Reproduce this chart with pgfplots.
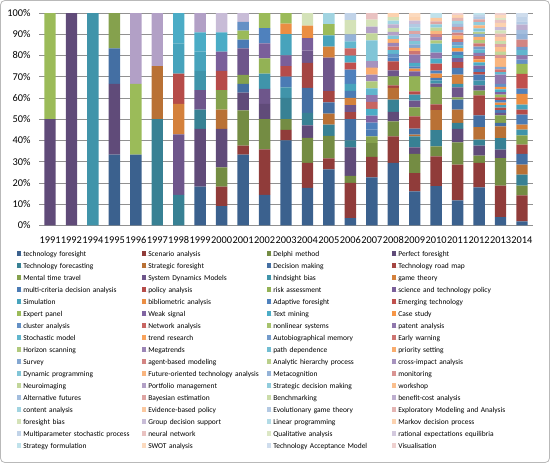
\documentclass[border=0pt]{standalone}
\usepackage{fontspec}
\setmainfont{Carlito}
\usepackage{pgfplots}
\usepackage{pgfplotstable}
\pgfplotsset{compat=1.18}

\definecolor{a1}{HTML}{4F81BD}
\definecolor{a2}{HTML}{C0504D}
\definecolor{a3}{HTML}{9BBB59}
\definecolor{a4}{HTML}{8064A2}
\definecolor{a5}{HTML}{4BACC6}
\definecolor{a6}{HTML}{F79646}
\definecolor{gridgray}{RGB}{145,145,145}
\foreach \g/\m in {0/75!black,1/86!black,2/95!black,3/100!white,4/88!white,5/79!white,6/70!white,7/61!white,8/52!white,9/43!white,10/35!white,11/27!white}{
  \foreach \k in {1,...,6}{
    \pgfmathtruncatemacro{\i}{6*\g+\k}
    \xglobal\colorlet{c\i}{a\k!\m}
  }
}

% rows = series, columns = years 1991,1992,1994,1995,...,2014 (percent of papers)
\pgfplotstableread{
name Y0 Y1 Y2 Y3 Y4 Y5 Y6 Y7 Y8 Y9 Y10 Y11 Y12 Y13 Y14 Y15 Y16 Y17 Y18 Y19 Y20 Y21 Y22
s1  0 0 0 33.33 33.33 0 0 18.18 9.09 33.33 14.29 40 17.65 26.32 3.33 22.58 29.4 16.0 18.4 11.8 17.9 3.8 1.9
s2  0 0 0 0 0 0 0 0 9.09 4.17 21.43 5 11.76 5.26 16.67 9.68 12.5 8.6 14.1 16.8 11.5 14.9 12.2
s3  0 0 0 0 0 0 0 0 9.09 16.67 14.29 5 11.76 10.53 3.33 6.45 7.1 9.0 4.7 10.5 3.4 13.0 4.6
s4  50 100 0 33.33 0 0 0 27.27 18.18 8.33 7.14 0 5.88 0 13.33 0 4.4 3.1 0 6.3 4.7 3.9 0
s5  0 0 0 0 0 50 14.29 9.09 0 0 0 10 5.88 5.26 3.33 0 5.8 5.2 7.6 2.8 2.8 5.5 5.2
s6  0 0 0 0 0 25 0 0 9.09 0 0 0 0 5.26 0 0 5.5 0.8 9.4 6.3 5.9 5.5 4.7
s7  0 0 0 16.67 0 0 0 0 0 4.17 0 0 11.76 5.26 10 0 0 2.8 0 4.7 5.6 1.6 5.0
s8  0 0 0 0 0 0 0 0 0 0 0 0 11.76 5.26 3.33 0 1.2 5.8 2.8 0 9.4 0 4.4
s9  0 0 0 16.67 0 0 0 0 9.09 4.17 0 0 0 0 0 3.23 4.3 4.3 8.2 1.1 2.2 3.6 4.4
s10 0 0 0 0 0 0 28.57 9.09 0 12.5 7.14 0 5.88 15.79 3.33 0 2.8 3.1 1.5 4.7 2.5 1.2 0
s11 0 0 100 0 0 0 0 9.09 0 0 7.14 5 0 0 0 0 0 2.8 1.6 1.6 2.2 0 2.7
s12 0 0 0 0 0 0 14.29 0 0 0 0 0 0 5.26 3.33 0 0 0 0 4.4 0 0 2.3
s13 0 0 0 0 0 0 0 0 0 4.17 0 5 0 0 3.33 3.23 0 0 1.2 3.1 2.9 1.2 4.7
s14 0 0 0 0 0 0 14.29 0 9.09 0 0 5 0 0 0 0 4.2 1.6 0 2.8 1.2 1.2 2.4
s15 0 0 0 0 0 0 0 0 0 0 7.14 0 0 0 0 0 0 7.1 0 0 0 0 0
s16 0 0 0 0 0 0 0 0 9.09 0 7.14 5 5.88 0 0 0 0 2.3 0 1.9 0 0 0
s17 0 0 0 0 0 0 14.28 9.09 0 0 0 10 0 5.26 3.33 0 0 0 0 1.4 0 1.2 2.3
s18 0 0 0 0 0 0 0 0 0 0 0 5 5.88 0 0 0 0 1.3 1.9 0 0 1.2 5.1
s19 0 0 0 0 0 0 0 0 0 0 7.14 0 0 0 6.67 3.23 1.8 1.1 1.5 1.6 1.5 1.2 2.5
s20 0 0 0 0 0 0 0 0 0 0 0 0 0 0 3.33 0 0 0 3.3 0 0 1.2 6.9
s21 50 0 0 0 33.33 0 0 0 0 4.17 7.15 5 0 5.26 0 0 0 0 0 0 0 1.3 4.7
s22 0 0 0 0 0 0 0 0 0 0 0 0 0 0 0 3.23 0 0 0 0 1.5 1.2 0
s23 0 0 0 0 0 0 14.28 9.09 9.09 0 0 0 0 0 3.33 3.23 0 1.6 2.3 0 1.5 1.3 0
s24 0 0 0 0 0 0 0 0 0 0 0 0 0 0 0 0 0 0 0 1.6 1.5 1.2 0
s25 0 0 0 0 0 0 0 0 0 4.17 0 0 0 0 0 0 1.8 0 0 0 0 1.4 2.0
s26 0 0 0 0 0 0 0 0 0 0 0 0 0 0 3.33 3.23 0 0 0 0 1.5 0 0
s27 0 0 0 0 0 0 0 0 0 0 0 0 0 0 0 0 0 0 0 0 0 0 0
s28 0 0 0 0 0 0 0 0 0 0 0 0 0 0 0 3.23 0 3.9 2.8 0 1.5 4.4 2.0
s29 0 0 0 0 0 0 0 0 0 0 0 0 0 0 3.33 3.23 1.7 0 4.3 1.4 1.5 1.2 2.5
s30 0 0 0 0 0 0 0 0 0 0 0 0 0 0 0 0 0 0 0 0 0 0 0
s31 0 0 0 0 0 0 0 0 0 0 0 0 0 0 0 0 0 0 0 1.5 1.5 0 1.5
s32 0 0 0 0 0 0 0 0 0 0 0 0 0 0 0 0 1.7 1.6 0 1.4 1.5 1.2 0
s33 0 0 0 0 0 0 0 0 0 0 0 0 0 0 0 3.23 0 0 1.5 0 1.5 0 0
s34 0 0 0 0 0 0 0 0 0 0 0 0 0 0 0 3.23 1.7 0 1.5 0 0 0 0
s35 0 0 0 0 0 0 0 0 0 0 0 0 0 0 0 0 0 0 0 0 0 0 0
s36 0 0 0 0 0 0 0 0 0 0 0 0 0 0 0 3.23 1.8 1.6 0 1.6 1.5 0 0
s37 0 0 0 0 0 0 0 0 0 0 0 0 0 0 0 0 0 1.6 0 0 1.5 1.2 0
s38 0 0 0 0 0 0 0 0 0 0 0 0 0 0 0 0 0 0 1.5 1.4 0 0 3.5
s39 0 0 0 0 0 0 0 0 0 0 0 0 0 0 0 0 0 0 0 0 1.0 0 0
s40 0 0 0 0 0 0 0 0 0 0 0 0 0 0 0 3.23 0 0 0 0 0 0 0
s41 0 0 0 0 0 0 0 0 0 0 0 0 0 0 0 9.68 1.7 1.6 0 0 1.5 0 0
s42 0 0 0 0 0 0 0 0 0 0 0 0 0 0 0 0 0 0 1.5 0 1.5 4.2 0
s43 0 0 0 0 0 0 0 0 0 0 0 0 0 0 3.33 0 0 0 0 1.4 0 0 2.5
s44 0 0 0 0 0 0 0 0 0 0 0 0 0 0 0 0 0 0 0 1.4 0 1.5 0
s45 0 0 0 0 0 0 0 0 0 0 0 0 0 0 0 3.23 0 0 1.5 0 0 1.5 0
s46 0 0 0 0 33.34 25 0 9.1 0 0 0 0 0 0 0 3.23 1.7 1.6 0 0 0 0 0
s47 0 0 0 0 0 0 0 0 0 0 0 0 0 0 0 0 0 0 1.5 0 1.5 0 0
s48 0 0 0 0 0 0 0 0 0 0 0 0 0 0 0 0 0 0 0 0 0 2.0 0
s49 0 0 0 0 0 0 0 0 0 0 0 0 0 0 0 0 0 1.6 0 1.4 0 0 2.0
s50 0 0 0 0 0 0 0 0 0 0 0 0 0 0 0 0 0 1.6 1.5 0 1.3 1.5 0
s51 0 0 0 0 0 0 0 0 0 0 0 0 0 0 0 0 1.8 0 0 0 0 1.5 0
s52 0 0 0 0 0 0 0 0 0 0 0 0 0 0 0 0 1.7 0 0 0 0 0 2.5
s53 0 0 0 0 0 0 0 0 0 0 0 0 0 5.27 0 0 1.8 1.6 0 1.4 0 0 0
s54 0 0 0 0 0 0 0 0 0 0 0 0 0 0 0 0 0 0 1.6 0 0 2.0 0
s55 0 0 0 0 0 0 0 0 0 0 0 0 0 0 0 0 0 1.6 0 0 1.0 0 1.5
s56 0 0 0 0 0 0 0 0 0 0 0 0 0 0 0 0 0 0 0 1.4 0 1.5 0
s57 0 0 0 0 0 0 0 0 0 0 0 0 5.89 0 6.67 3.23 1.7 0 0 0 0 1.5 0
s58 0 0 0 0 0 0 0 0 9.1 4.15 0 0 0 0 0 0 0 1.6 0 0 0 1.5 0
s59 0 0 0 0 0 0 0 0 0 0 0 0 0 0 0 0 0 0 0 0 0 0 0
s60 0 0 0 0 0 0 0 0 0 0 0 0 0 0 0 0 1.9 1.6 0 1.3 0 2.0 0
s61 0 0 0 0 0 0 0 0 0 0 0 0 0 0 3.36 0 0 0 0 0 1.0 0 2.0
s62 0 0 0 0 0 0 0 0 0 0 0 0 0 0 0 3.16 0 0 0 0 0 1.5 0
s63 0 0 0 0 0 0 0 0 0 0 0 0 0 0 0 0 0 0 0 0 0 0.7 0
s64 0 0 0 0 0 0 0 0 0 0 0 0 0 0 0 0 0 0 0 0 0 0 0
s65 0 0 0 0 0 0 0 0 0 0 0 0 0 0 0 0 0 0 2.3 0 1.0 0 0
s66 0 0 0 0 0 0 0 0 0 0 0 0 0 0 0 0 0 2.0 0 0 0 1.5 0
s67 0 0 0 0 0 0 0 0 0 0 0 0 0 0 0 0 0 0 0 0 0 0 2.0
s68 0 0 0 0 0 0 0 0 0 0 0 0 0 0 0 0 0 0 0 1.0 0 1.0 0
}\dataraw
\pgfplotstabletranspose[colnames from=name]\datat{\dataraw}

\begin{document}
\begin{tikzpicture}
\path[use as bounding box] (-39.3bp,-237.7bp) rectangle (510.7bp,225.3bp);
\draw[gray!55, line width=0.8bp, rounded corners=4bp] (-38.7bp,-237.1bp) rectangle (510.1bp,224.7bp);
\begin{axis}[
  at={(0bp,0bp)}, anchor=south west,
  scale only axis, width=493.4bp, height=212.3bp,
  ybar stacked, bar width=11.4bp,
  xmin=-0.5, xmax=22.5, ymin=0, ymax=100,
  enlargelimits=false,
  axis x line*=bottom, axis y line*=left,
  x axis line style={draw=gridgray, line width=0.6bp, -},
  y axis line style={draw=none},
  ymajorgrids, grid style={draw=gridgray, line width=0.6bp},
  major tick length=0pt,
  xtick={0,...,22},
  xticklabels={1991,1992,1994,1995,1996,1997,1998,1999,2000,2001,2002,2003,2004,2005,2006,2007,2008,2009,2010,2011,2012,2013,2014},
  ytick={0,10,...,100},
  yticklabels={0\%,10\%,20\%,30\%,40\%,50\%,60\%,70\%,80\%,90\%,100\%},
  xticklabel style={font=\fontsize{10.4}{12}\selectfont, anchor=base, inner sep=0pt, yshift=-18bp},
  yticklabel style={font=\fontsize{10.4}{12}\selectfont, anchor=east, inner sep=0pt, xshift=-8.6bp},
  legend columns=4,
  legend cell align=left,
  legend image code/.code={\fill[#1,draw=none] (0bp,-0.3bp) rectangle (4.4bp,4.1bp); \path (0bp,0bp) -- (6.6bp,0bp);},
  legend style={draw=none, fill=none, inner sep=0pt, outer sep=0pt, row sep=0pt, column sep=0pt,
    font=\fontsize{7.5}{9}\selectfont,
    nodes={inner sep=0pt, text width=118.4bp, text height=7.4bp, text depth=4.6bp, align=left},
    at={(-0.0458,-0.114)}, anchor=north west},
  legend entries={technology foresight, Scenario analysis, Delphi method, Perfect foresight, Technology forecasting, Strategic foresight, Decision making, Technology road map, Mental time travel, System Dynamics Models, hindsight bias, game theory, multi-criteria decision analysis, policy analysis, risk assessment, science and technology policy, Simulation, bibliometric analysis, Adaptive foresight, Emerging technology, Expert panel, Weak signal, Text mining, Case study, cluster analysis, Network analysis, nonlinear systems, patent analysis, Stochastic model, trend research, Autobiographical memory, Early warning, Horizon scanning, Megatrends, path dependence, priority setting, Survey, agent-based modeling, Analytic hierarchy process, cross-impact analysis, Dynamic programming, Future-oriented technology analysis, Metacognition, monitoring, Neuroimaging, Portfolio management, Strategic decision making, workshop, Alternative futures, Bayesian estimation, Benchmarking, benefit-cost analysis, content analysis, Evidence-based policy, Evolutionary game theory, Exploratory Modeling and Analysis, foresight bias, Group decision support, Linear programming, Markov decision process, Multiparameter stochastic process, neural network, Qualitative analysis, rational expectations equilibria, Strategy formulation, SWOT analysis, Technology Acceptance Model, Visualisation},
]
\pgfplotsinvokeforeach{1,...,68}{
  \addplot[fill=c#1, draw=none] table[x expr=\coordindex, y=s#1] {\datat};
}
\end{axis}
\end{tikzpicture}
\end{document}
